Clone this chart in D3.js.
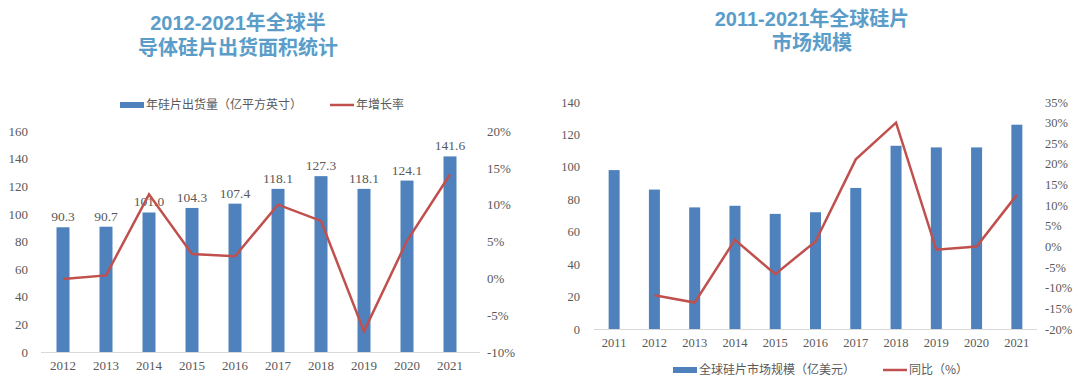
<!DOCTYPE html>
<html><head><meta charset="utf-8">
<script src="https://cdn.jsdelivr.net/npm/d3@7"></script>
<style>
html,body{margin:0;padding:0;background:#fff;}
svg{display:block;}
</style></head>
<body>
<svg id="c" width="1080" height="378"></svg>
<script>
// ---- Left chart data ----
const leftYears = ["2012","2013","2014","2015","2016","2017","2018","2019","2020","2021"];
const leftArea = [90.3, 90.7, 101.0, 104.3, 107.4, 118.1, 127.3, 118.1, 124.1, 141.6];
const leftGrowth = [-0.1, 0.4, 11.4, 3.3, 3.0, 10.0, 7.8, -7.2, 5.1, 14.1];
const leftYTicks = [0,20,40,60,80,100,120,140,160];
const leftPTicks = [-10,-5,0,5,10,15,20];
const leftTitle = ["2012-2021年全球半","导体硅片出货面积统计"];
const leftLegend = ["年硅片出货量（亿平方英寸）","年增长率"];

// ---- Right chart data ----
const rightYears = ["2011","2012","2013","2014","2015","2016","2017","2018","2019","2020","2021"];
const rightMarket = [98, 86, 75, 76, 71, 72, 87, 113, 112, 112, 126];
const rightYoY = [null, -11.8, -13.6, 1.6, -6.7, 1.2, 21.1, 30.0, -0.8, 0.0, 12.5];
const rightYTicks = [0,20,40,60,80,100,120,140];
const rightPTicks = [-20,-15,-10,-5,0,5,10,15,20,25,30,35];
const rightTitle = ["2011-2021年全球硅片","市场规模"];
const rightLegend = ["全球硅片市场规模（亿美元）","同比（%）"];

const BLUE = "#4f81bd", RED = "#c0504d", TITLE = "#5b9dc9", GRAY = "#595959", AXIS = "#d9d9d9";
const SERIF = "'Liberation Serif','Times New Roman',serif";
const CJK = "'Noto Sans CJK SC','Noto Sans',sans-serif";
const TITLEFONT = "'Liberation Sans','Noto Sans CJK SC',sans-serif";

const svg = d3.select("#c");

function title(lines, cx, y0, lh){
  lines.forEach((l,i)=> svg.append("text").attr("text-anchor","middle").attr("fill",TITLE)
    .style("font-family",TITLEFONT).style("font-weight","700").style("font-size","20px")
    .attr("x",cx).attr("y",y0+i*lh).text(l));
}

function styleAxis(g, size){
  g.select(".domain").remove();
  g.selectAll("text").attr("fill",GRAY).style("font-family",SERIF).style("font-size",size+"px");
}

function legend(items, y){
  items.forEach(it=>{
    if(it.type==="bar"){
      svg.append("rect").attr("x",it.x).attr("y",y-3).attr("width",24).attr("height",6).attr("fill",BLUE);
    } else {
      svg.append("line").attr("x1",it.x).attr("x2",it.x+24).attr("y1",y).attr("y2",y)
        .attr("stroke",RED).attr("stroke-width",2.5);
    }
    svg.append("text").attr("x",it.x+26).attr("y",y).attr("dy","0.35em").attr("fill",GRAY)
      .style("font-family",CJK).style("font-size","12px").text(it.label);
  });
}

// ================= LEFT =================
{
  const x = d3.scaleBand().domain(leftYears).range([41.5, 471.5]).paddingInner(0).paddingOuter(0);
  const y = d3.scaleLinear().domain([0,160]).range([352,131]);
  const yp = d3.scaleLinear().domain([-10,20]).range([352,131]);
  const bw = 13;

  title(leftTitle, 238, 30, 25);

  svg.append("g").attr("transform","translate(28,0)")
    .call(d3.axisLeft(y).tickValues(leftYTicks).tickSize(0).tickPadding(0))
    .call(g=>styleAxis(g,13));
  svg.append("g").attr("transform","translate(487,0)")
    .call(d3.axisRight(yp).tickValues(leftPTicks).tickSize(0).tickPadding(0).tickFormat(d=>d+"%"))
    .call(g=>styleAxis(g,13));

  svg.append("g").selectAll("rect").data(leftArea).join("rect")
    .attr("x",(d,i)=>x(leftYears[i])+x.bandwidth()/2-bw/2)
    .attr("width",bw).attr("y",d=>y(d)).attr("height",d=>y(0)-y(d)).attr("fill",BLUE);

  svg.append("line").attr("x1",41).attr("x2",480).attr("y1",352.5).attr("y2",352.5)
    .attr("stroke",AXIS).attr("stroke-width",1);

  svg.append("g").attr("transform","translate(0,352)")
    .call(d3.axisBottom(x).tickSize(0).tickPadding(9))
    .call(g=>styleAxis(g,13));

  svg.append("g").selectAll("text").data(leftArea).join("text")
    .attr("x",(d,i)=>x(leftYears[i])+x.bandwidth()/2).attr("y",d=>y(d)-6)
    .attr("text-anchor","middle").attr("fill",GRAY)
    .style("font-family",SERIF).style("font-size","13.5px").text(d=>d.toFixed(1));

  const line = d3.line().x((d,i)=>x(leftYears[i])+x.bandwidth()/2).y(d=>yp(d));
  svg.append("path").datum(leftGrowth).attr("d",line).attr("fill","none")
    .attr("stroke",RED).attr("stroke-width",2.5).attr("stroke-linejoin","miter");

  legend([{type:"bar",x:120,label:leftLegend[0]},{type:"line",x:330,label:leftLegend[1]}], 105);
}

// ================= RIGHT =================
{
  const x = d3.scaleBand().domain(rightYears).range([594, 1037]).paddingInner(0).paddingOuter(0);
  const y = d3.scaleLinear().domain([0,140]).range([329,102]);
  const yp = d3.scaleLinear().domain([-20,35]).range([329,102]);
  const bw = 11;

  title(rightTitle, 812, 26, 24);

  svg.append("g").attr("transform","translate(580,0)")
    .call(d3.axisLeft(y).tickValues(rightYTicks).tickSize(0).tickPadding(0))
    .call(g=>styleAxis(g,12.5));
  svg.append("g").attr("transform","translate(1045,0)")
    .call(d3.axisRight(yp).tickValues(rightPTicks).tickSize(0).tickPadding(0).tickFormat(d=>d+"%"))
    .call(g=>styleAxis(g,12.5));

  svg.append("g").selectAll("rect").data(rightMarket).join("rect")
    .attr("x",(d,i)=>x(rightYears[i])+x.bandwidth()/2-bw/2)
    .attr("width",bw).attr("y",d=>y(d)).attr("height",d=>y(0)-y(d)).attr("fill",BLUE);

  svg.append("line").attr("x1",594).attr("x2",1037).attr("y1",329.5).attr("y2",329.5)
    .attr("stroke",AXIS).attr("stroke-width",1);

  svg.append("g").attr("transform","translate(0,329)")
    .call(d3.axisBottom(x).tickSize(0).tickPadding(9))
    .call(g=>styleAxis(g,12.5));

  const line = d3.line().defined(d=>d!==null).x((d,i)=>x(rightYears[i])+x.bandwidth()/2).y(d=>yp(d));
  svg.append("path").datum(rightYoY).attr("d",line).attr("fill","none")
    .attr("stroke",RED).attr("stroke-width",2.5);

  legend([{type:"bar",x:673,label:rightLegend[0]},{type:"line",x:883,label:rightLegend[1]}], 370);
}
</script>
</body></html>
